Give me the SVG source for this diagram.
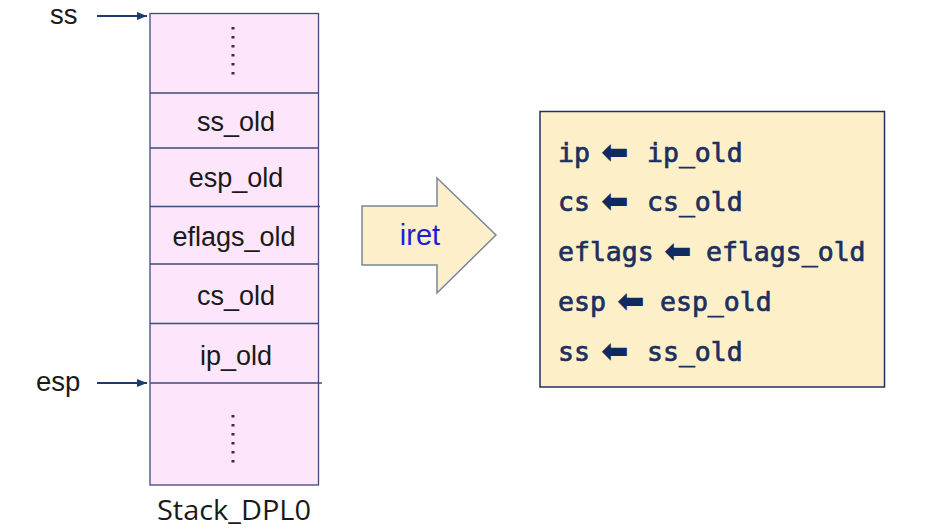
<svg xmlns="http://www.w3.org/2000/svg" width="939" height="528" viewBox="0 0 939 528">
<defs>
<marker id="ah" viewBox="0 0 10 10" refX="10" refY="5" markerWidth="10" markerHeight="10" markerUnits="userSpaceOnUse" orient="auto"><path d="M0,1 L10,5 L0,9 z" fill="#1f3a6e"/></marker>
<style>
.cell{fill:#fde6fb;stroke:#3d4a7a;stroke-width:1.3}
.sep{stroke:#3d4a7a;stroke-width:1.3}
.lbl{font-family:"Liberation Sans",Arial,sans-serif;font-size:27px;fill:#1a1a1a;text-anchor:middle}
.ptr{font-family:"Liberation Sans",Arial,sans-serif;font-size:27.5px;fill:#1a1a1a}
.dots{stroke:#333;stroke-width:3;stroke-dasharray:2.5 6.5}
.conn{stroke:#1f3a6e;stroke-width:2;fill:none}
.code{font-family:"DejaVu Sans Mono","Liberation Mono",monospace;font-size:26.5px;fill:#1c2f5e;stroke:#1c2f5e;stroke-width:0.7}
.la{font-family:"DejaVu Sans",sans-serif;font-size:33px;font-weight:bold;fill:#0f2a60;stroke:none}
</style>
</defs>
<rect width="939" height="528" fill="#ffffff"/>
<g id="stack">
<rect class="cell" x="150" y="13.5" width="168.5" height="471.5"/>
<line class="sep" x1="150" y1="93" x2="318.5" y2="93"/>
<line class="sep" x1="150" y1="148" x2="318.5" y2="148"/>
<line class="sep" x1="150" y1="206.5" x2="320" y2="206.5"/>
<line class="sep" x1="150" y1="264" x2="319" y2="264"/>
<line class="sep" x1="150" y1="323.5" x2="318.5" y2="323.5"/>
<line class="sep" x1="150" y1="383" x2="322" y2="383"/>
<line class="dots" x1="233" y1="27" x2="233" y2="76"/>
<line class="dots" x1="233" y1="415" x2="233" y2="465"/>
<text class="lbl" x="236" y="131">ss_old</text>
<text class="lbl" x="236" y="187">esp_old</text>
<text class="lbl" x="234" y="246">eflags_old</text>
<text class="lbl" x="236" y="305">cs_old</text>
<text class="lbl" x="236" y="365">ip_old</text>
<text x="234" y="520" style="font-family:'Open Sans','Noto Sans',sans-serif;font-size:27px;fill:#1a1a1a;text-anchor:middle" textLength="154" lengthAdjust="spacingAndGlyphs">Stack_DPL0</text>
</g>
<g id="ss-pointer">
<text class="ptr" x="50" y="24">ss</text>
</g>
<g id="esp-pointer">
<text class="ptr" x="36" y="391">esp</text>
</g>
<g id="connectors">
<line class="conn" x1="97" y1="16" x2="147" y2="16" marker-end="url(#ah)"/>
<line class="conn" x1="97" y1="383" x2="147" y2="383" marker-end="url(#ah)"/>
</g>
<g id="iret">
<polygon points="362,206 437,206 437,178 496,235 437,293 437,265 362,265" fill="#fdefc9" stroke="#7a8898" stroke-width="1.5"/>
<text x="420" y="245" style="font-family:'Liberation Sans',Arial,sans-serif;font-size:29px;fill:#1d1ddb;text-anchor:middle">iret</text>
</g>
<g id="result">
<rect x="540" y="111.5" width="344.5" height="275.5" fill="#fdf0c9" stroke="#22305c" stroke-width="1.5"/>
<text class="code" y="162"><tspan x="558">ip</tspan><tspan class="la" x="601" dy="1">⬅</tspan><tspan x="647" dy="-1">ip_old</tspan></text>
<text class="code" y="211"><tspan x="558">cs</tspan><tspan class="la" x="601" dy="1">⬅</tspan><tspan x="647" dy="-1">cs_old</tspan></text>
<text class="code" y="261"><tspan x="558">eflags</tspan><tspan class="la" x="664" dy="1">⬅</tspan><tspan x="706" dy="-1">eflags_old</tspan></text>
<text class="code" y="311"><tspan x="558">esp</tspan><tspan class="la" x="617" dy="1">⬅</tspan><tspan x="660" dy="-1">esp_old</tspan></text>
<text class="code" y="361"><tspan x="558">ss</tspan><tspan class="la" x="601" dy="1">⬅</tspan><tspan x="647" dy="-1">ss_old</tspan></text>
</g>
</svg>
